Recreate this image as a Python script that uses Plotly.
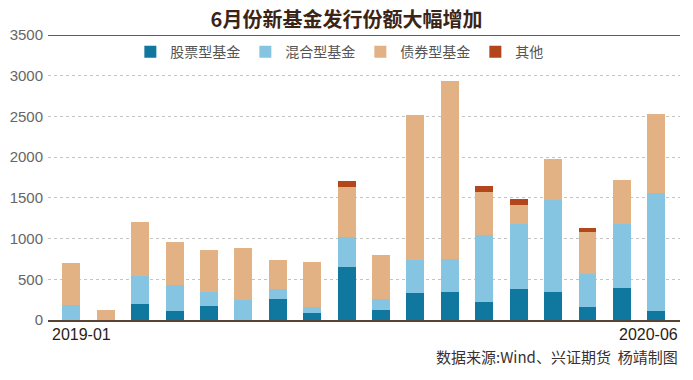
import plotly.graph_objects as go

months = ["2019-01", "2019-02", "2019-03", "2019-04", "2019-05", "2019-06",
          "2019-07", "2019-08", "2019-09", "2019-10", "2019-11", "2019-12",
          "2020-01", "2020-02", "2020-03", "2020-04", "2020-05", "2020-06"]
stock = [0, 0, 200, 110, 170, 0, 260, 90, 650, 120, 330, 350, 220, 380, 350, 165, 390, 110]
mixed = [180, 0, 345, 320, 180, 240, 120, 65, 365, 140, 410, 400, 830, 800, 1120, 405, 795, 1450]
bond = [520, 120, 655, 530, 510, 640, 360, 560, 620, 535, 1775, 2180, 520, 230, 505, 515, 530, 975]
other = [0, 0, 0, 0, 0, 0, 0, 0, 70, 0, 0, 0, 80, 80, 0, 45, 0, 0]
series_names = ["股票型基金", "混合型基金", "债券型基金", "其他"]
y_ticks = [0, 500, 1000, 1500, 2000, 2500, 3000, 3500]
x_tick_labels = ["2019-01", "2020-06"]
title = "6月份新基金发行份额大幅增加"
source = "数据来源:Wind、兴证期货  杨靖制图"

colors = ["#10789f", "#86c5e2", "#e2b184", "#b4461b"]
CJK = "Noto Sans CJK SC"

fig = go.Figure()
for name, vals, col in zip(series_names, [stock, mixed, bond, other], colors):
    fig.add_trace(go.Bar(x=months, y=vals, name=name, marker=dict(color=col, line=dict(width=0))))

fig.update_layout(
    width=693, height=380,
    margin=dict(l=48, r=13, t=35, b=59.5, autoexpand=False),
    paper_bgcolor="white", plot_bgcolor="white",
    barmode="stack", bargap=0.48,
    showlegend=True,
    legend=dict(orientation="h", x=0.461, xanchor="center", y=0.94, yanchor="middle",
                font=dict(family=CJK, size=14, color="#555555"),
                bgcolor="rgba(0,0,0,0)", traceorder="normal", itemclick=False),
    title=dict(text="<b>" + title + "</b>", x=0.5, xref="container", xanchor="center",
               y=1 - 20 / 380, yref="container", yanchor="middle",
               font=dict(family=CJK, size=20, color="#3a2418")),
    font=dict(family=CJK),
)
fig.update_xaxes(type="category", range=[-0.68, 17.69], showticklabels=False,
                 showline=True, linecolor="#5a4232", linewidth=1.5, showgrid=False,
                 zeroline=False, ticks="", automargin=False)
fig.update_yaxes(range=[0, 3500], tickvals=y_ticks, ticks="", showline=False,
                 showgrid=True, gridcolor="#c4c4c4", griddash="dot", gridwidth=1,
                 zeroline=False, automargin=False,
                 tickfont=dict(family="Liberation Sans", size=15, color="#666666"),
                 ticklabelstandoff=4)

# title underline at top of plot
fig.add_shape(type="line", xref="paper", yref="y", x0=0, x1=1, y0=3500, y1=3500,
              line=dict(color="#6b5a50", width=2))

fig.add_annotation(text=x_tick_labels[0], xref="paper", yref="paper", x=0, y=0,
                   xanchor="left", yanchor="top", yshift=-4, xshift=2, showarrow=False,
                   font=dict(family="Liberation Sans", size=16, color="#2b1d14"))
fig.add_annotation(text=x_tick_labels[1], xref="paper", yref="paper", x=1, y=0,
                   xanchor="right", yanchor="top", yshift=-4, showarrow=False,
                   font=dict(family="Liberation Sans", size=16, color="#2b1d14"))
fig.add_annotation(text=source, xref="paper", yref="paper", x=1, y=-0.128,
                   xanchor="right", yanchor="middle", showarrow=False,
                   font=dict(family=CJK, size=15, color="#3a3030"))

fig.write_html("out.html", config={"displayModeBar": False},
               post_script="document.body.style.margin='0';document.body.style.padding='0';")
